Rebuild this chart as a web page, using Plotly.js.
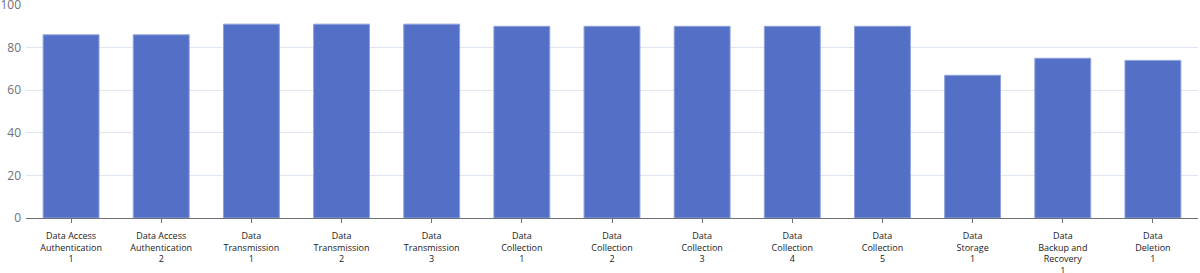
<!DOCTYPE html>
<html><head><meta charset="utf-8">
<script src="https://cdn.plot.ly/plotly-3.0.1.min.js"></script>
<style>html,body{margin:0;padding:0;background:#fff}#c{width:1200px;height:273px}</style>
</head><body><div id="c"></div>
<script>
const categories = [
  "Data Access<br>Authentication<br>1",
  "Data Access<br>Authentication<br>2",
  "Data<br>Transmission<br>1",
  "Data<br>Transmission<br>2",
  "Data<br>Transmission<br>3",
  "Data<br>Collection<br>1",
  "Data<br>Collection<br>2",
  "Data<br>Collection<br>3",
  "Data<br>Collection<br>4",
  "Data<br>Collection<br>5",
  "Data<br>Storage<br>1",
  "Data<br>Backup and<br>Recovery<br>1",
  "Data<br>Deletion<br>1"
];
const values = [86, 86, 91, 91, 91, 90, 90, 90, 90, 90, 67, 75, 74];
const yTicks = [0, 20, 40, 60, 80, 100];

Plotly.newPlot('c', [{
  type: 'bar',
  x: categories,
  y: values,
  marker: {color: '#5470c6', line: {color: '#8fa2dc', width: 1}},
  hoverinfo: 'x+y'
}], {
  width: 1200, height: 273,
  margin: {l: 26, r: 2, t: 5, b: 55},
  paper_bgcolor: '#fff', plot_bgcolor: '#fff',
  bargap: 0.38,
  showlegend: false,
  font: {family: 'Open Sans, Noto Sans, sans-serif'},
  xaxis: {
    type: 'category',
    showgrid: false,
    showline: true, linecolor: '#6E7079', linewidth: 1,
    ticks: 'outside', ticklen: 4, tickcolor: '#6E7079',
    tickfont: {size: 9, color: '#222'},
    tickangle: 0,
    ticklabelstandoff: 5,
    ticklabeloverflow: 'allow',
    automargin: false
  },
  yaxis: {
    range: [0, 100],
    tickvals: yTicks,
    showgrid: true, gridcolor: '#E0E6F1', gridwidth: 1,
    zeroline: false, showline: false,
    tickfont: {family: 'Open Sans, sans-serif', size: 12, color: '#6E7079'},
    ticks: '', ticklabelstandoff: 4,
    ticklabeloverflow: 'allow',
    automargin: false
  }
}, {displayModeBar: false, staticPlot: true});
</script></body></html>
